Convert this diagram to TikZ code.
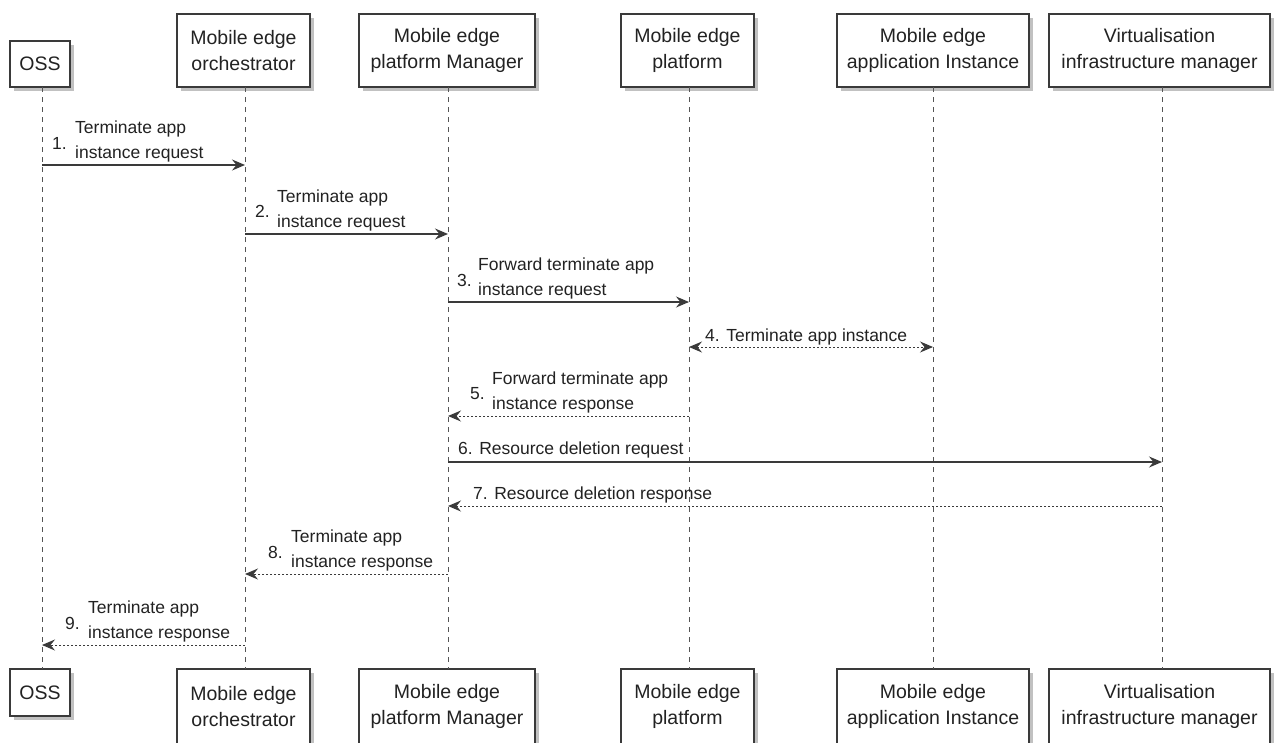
\documentclass[tikz,border=0pt]{standalone}
\usepackage{fontspec}
\setmainfont{Liberation Sans}
\usetikzlibrary{arrows.meta,shadows}
\definecolor{ink}{HTML}{222222}
\definecolor{linec}{HTML}{3A3A3A}
\definecolor{lifec}{HTML}{555555}
\tikzset{
  part/.style={draw=linec, line width=1.3pt, fill=white, inner sep=0pt, align=center,
     text=ink, font=\fontsize{19.5}{25.5}\selectfont,
     drop shadow={shadow xshift=4pt, shadow yshift=-4pt, fill=black!40, opacity=0.6}},
  life/.style={draw=lifec, line width=0.9pt, dash pattern=on 5pt off 5pt},
  req/.style={draw=linec, line width=1.2pt, -{Stealth[length=13pt,width=11pt,inset=4.5pt]}},
  resp/.style={draw=linec, line width=1pt, dash pattern=on 2pt off 2pt, -{Stealth[length=13pt,width=11pt,inset=4.5pt]}},
  lbl/.style={anchor=west, inner sep=0pt, align=left, text=ink, font=\fontsize{17.5}{25}\selectfont},
}
\begin{document}
\begin{tikzpicture}[x=1pt,y=-1pt]
\useasboundingbox (0,0) rectangle (1274,742);
\clip (0,0) rectangle (1274,742);
\fill[white] (0,0) rectangle (1274,742);
% top participants
\node[part, minimum width=60pt, minimum height=46pt] (t1) at (40,64) {OSS};
\node[part, minimum width=133pt, minimum height=73pt] (t2) at (243.5,50.5) {Mobile edge\\orchestrator};
\node[part, minimum width=176pt, minimum height=73pt] (t3) at (447,50.5) {Mobile edge\\platform Manager};
\node[part, minimum width=133pt, minimum height=73pt] (t4) at (687.5,50.5) {Mobile edge\\platform};
\node[part, minimum width=192pt, minimum height=73pt] (t5) at (933,50.5) {Mobile edge\\application Instance};
\node[part, minimum width=221pt, minimum height=73pt] (t6) at (1159.5,50.5) {Virtualisation\\infrastructure manager};
% bottom participants
\node[part, minimum width=60pt, minimum height=47pt] (b1) at (40,692.5) {OSS};
\node[part, minimum width=133pt, minimum height=75pt] (b2) at (243.5,706.5) {Mobile edge\\orchestrator};
\node[part, minimum width=176pt, minimum height=75pt] (b3) at (447,706.5) {Mobile edge\\platform Manager};
\node[part, minimum width=133pt, minimum height=75pt] (b4) at (687.5,706.5) {Mobile edge\\platform};
\node[part, minimum width=192pt, minimum height=75pt] (b5) at (933,706.5) {Mobile edge\\application Instance};
\node[part, minimum width=221pt, minimum height=75pt] (b6) at (1159.5,706.5) {Virtualisation\\infrastructure manager};
% lifelines
\coordinate (l1t) at (42,87);   \coordinate (l1b) at (42,669);
\coordinate (l2t) at (245,87);  \coordinate (l2b) at (245,669);
\coordinate (l3t) at (448,87);  \coordinate (l3b) at (448,669);
\coordinate (l4t) at (689,87);  \coordinate (l4b) at (689,669);
\coordinate (l5t) at (933,87);  \coordinate (l5b) at (933,669);
\coordinate (l6t) at (1162,87); \coordinate (l6b) at (1162,669);
\foreach \i in {1,...,6} { \draw[life] (l\i t) -- (l\i b); }
% message anchor points
\coordinate (m1a) at (42,165);  \coordinate (m1b) at (245,165);
\coordinate (m2a) at (245,234); \coordinate (m2b) at (448,234);
\coordinate (m3a) at (448,302); \coordinate (m3b) at (689,302);
\coordinate (m4a) at (689,347); \coordinate (m4b) at (933,347);
\coordinate (m5a) at (689,416); \coordinate (m5b) at (448,416);
\coordinate (m6a) at (448,462); \coordinate (m6b) at (1162,462);
\coordinate (m7a) at (1162,506);\coordinate (m7b) at (448,506);
\coordinate (m8a) at (448,574); \coordinate (m8b) at (245,574);
\coordinate (m9a) at (245,645); \coordinate (m9b) at (42,645);
% messages
\draw[req] (m1a) -- (m1b);
\draw[req] (m2a) -- (m2b);
\draw[req] (m3a) -- (m3b);
\draw[resp, {Stealth[length=13pt,width=11pt,inset=4.5pt]}-{Stealth[length=13pt,width=11pt,inset=4.5pt]}] (m4a) -- (m4b);
\draw[resp] (m5a) -- (m5b);
\draw[req] (m6a) -- (m6b);
\draw[resp] (m7a) -- (m7b);
\draw[resp] (m8a) -- (m8b);
\draw[resp] (m9a) -- (m9b);
% labels
\node[lbl] (n1) at (52,143) {1.};
\node[lbl] (x1) at (75,141) {Terminate app\\instance request};
\node[lbl] (n2) at (255,211) {2.};
\node[lbl] (x2) at (277,210) {Terminate app\\instance request};
\node[lbl] (n3) at (457,280) {3.};
\node[lbl] (x3) at (478,278) {Forward terminate app\\instance request};
\node[lbl] (x4) at (705,337) {4. Terminate app instance};
\node[lbl] (n5) at (470,394) {5.};
\node[lbl] (x5) at (492,392) {Forward terminate app\\instance response};
\node[lbl] (x6) at (458,450) {6. Resource deletion request};
\node[lbl] (x7) at (473,495) {7. Resource deletion response};
\node[lbl] (n8) at (268,552) {8.};
\node[lbl] (x8) at (291,550) {Terminate app\\instance response};
\node[lbl] (n9) at (65,623) {9.};
\node[lbl] (x9) at (88,621) {Terminate app\\instance response};
\end{tikzpicture}
\end{document}
